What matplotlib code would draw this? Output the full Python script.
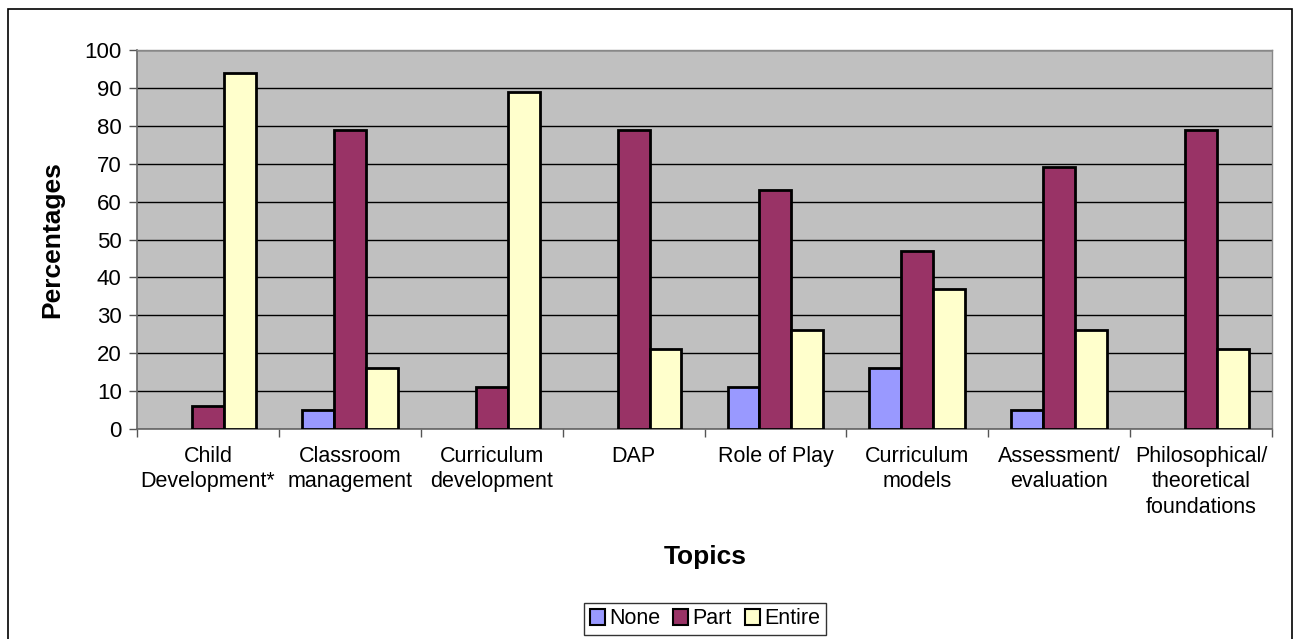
import matplotlib.pyplot as plt
import numpy as np
from matplotlib.patches import Rectangle, Patch

plt.rcParams['font.family'] = ['Liberation Sans', 'DejaVu Sans']

topics = ['Child\nDevelopment*', 'Classroom\nmanagement', 'Curriculum\ndevelopment',
          'DAP', 'Role of Play', 'Curriculum\nmodels', 'Assessment/\nevaluation',
          'Philosophical/\ntheoretical\nfoundations']
none_vals = [0, 5, 0, 0, 11, 16, 5, 0]
part_vals = [6, 79, 11, 79, 63, 47, 69, 79]
entire_vals = [94, 16, 89, 21, 26, 37, 26, 21]

series = [('None', none_vals, '#9999FF'),
          ('Part', part_vals, '#993366'),
          ('Entire', entire_vals, '#FFFFCC')]

fig = plt.figure(figsize=(12.95, 6.39), dpi=100)
ax = fig.add_axes([137/1295, 1 - 429/639, (1272 - 137)/1295, (429 - 50)/639])
ax.set_facecolor('#C0C0C0')

x = np.arange(len(topics))
w = 0.225
for i, (name, vals, col) in enumerate(series):
    # zero bars get no outline, like the original
    lws = [2 if v > 0 else 0 for v in vals]
    ax.bar(x + (i - 1) * w, vals, w, color=col, edgecolor='black',
           linewidth=lws, zorder=3)

ax.set_xlim(-0.5, len(topics) - 0.5)
ax.set_ylim(0, 100)
ax.set_yticks(range(0, 101, 10))
ax.yaxis.grid(True, color='black', linewidth=1, zorder=1)
ax.set_axisbelow(True)

# category labels in the middle, tick marks at the boundaries
ax.set_xticks(x)
ax.set_xticklabels(topics, fontsize=15.5, linespacing=1.3, va='top')
ax.tick_params(axis='x', length=0, pad=12)
ax.set_xticks(np.arange(-0.5, len(topics)), minor=True)
ax.tick_params(axis='x', which='minor', length=6, width=1, color='#555555')
ax.tick_params(axis='y', labelsize=16, length=6, width=1, color='#555555', pad=5)

for s in ['left', 'bottom']:
    ax.spines[s].set_color('#666666')
    ax.spines[s].set_linewidth(1.2)
for s in ['top', 'right']:
    ax.spines[s].set_color('#888888')
    ax.spines[s].set_linewidth(1)

fig.text(52/1295, 1 - 240/639, 'Percentages', rotation=90, fontsize=19,
         fontweight='bold', ha='center', va='center')
fig.text(705/1295, 1 - 557/639, 'Topics', fontsize=19, fontweight='bold',
         ha='center', va='center')

handles = [Patch(facecolor=col, edgecolor='black', linewidth=1.5, label=name)
           for name, vals, col in series]
leg = fig.legend(handles=handles, loc='center', bbox_to_anchor=(705/1295, 1 - 619/639),
                 ncol=3, fontsize=15.5, frameon=True, fancybox=False, edgecolor='black',
                 handlelength=0.7, handleheight=0.7, handletextpad=0.2,
                 columnspacing=0.6, borderpad=0.25, borderaxespad=0)
leg.get_frame().set_linewidth(1)

fig.patches.append(Rectangle((8/1295, -0.02), (1292 - 8)/1295, 1.02 - 9/639,
                             transform=fig.transFigure, fill=False,
                             edgecolor='black', linewidth=1.2))

plt.savefig('out.png', dpi=100)
